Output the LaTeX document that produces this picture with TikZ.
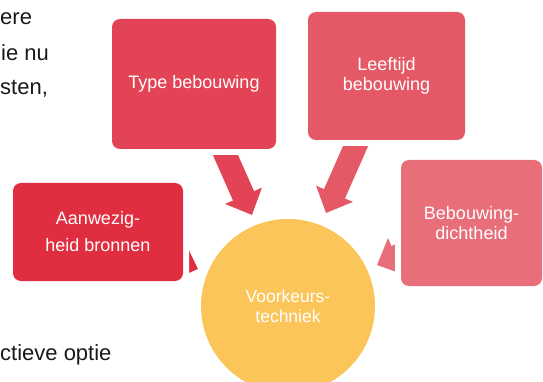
\documentclass[tikz,border=0pt]{standalone}
\usepackage{fontspec}
\setmainfont{Liberation Sans}
\usetikzlibrary{arrows.meta,backgrounds}
\definecolor{roodA}{HTML}{E02D40}
\definecolor{roodB}{HTML}{E24455}
\definecolor{roodC}{HTML}{E55967}
\definecolor{roodD}{HTML}{E86E79}
\definecolor{geel}{HTML}{FBC55A}
\begin{document}
\begin{tikzpicture}[x=1pt, y=-1pt,
  blok/.style={rounded corners=8pt, inner sep=0pt, align=center, text=white,
               font=\fontsize{18pt}{20pt}\selectfont, fill=#1,
               preaction={draw=white, line width=12pt}},
  kern/.style={circle, inner sep=0pt, minimum size=174pt, align=center, text=white,
               fill=geel, font=\fontsize{17.5pt}{19.5pt}\selectfont},
  tekst/.style={anchor=base west, inner sep=0pt, font=\fontsize{22pt}{26pt}\selectfont,
                text=black!90},
  pijl/.style={line width=23pt, -{Triangle[width=39pt, length=21pt]}, draw=#1}
]
  \useasboundingbox (0,0) rectangle (543,382);

  %-- Tekst links
  \node[tekst] (r1) at (0,25)  {ere};
  \node[tekst] (r2) at (1,61)  {ie nu};
  \node[tekst] (r3) at (0,95)  {sten,};
  \node[tekst] (r4) at (0,360) {ctieve optie};

  %-- Factoren
  \node[blok=roodB, minimum width=164pt, minimum height=130pt] (type)  at (194,84)    {Type bebouwing};
  \node[blok=roodC, minimum width=157pt, minimum height=128pt] (leef)  at (386.5,76)  {Leeftijd\\bebouwing};
  \node[blok=roodA, minimum width=170pt, minimum height=98pt,
        font=\fontsize{18pt}{27pt}\selectfont]                 (bron)  at (98,232)    {Aanwezig-\\heid bronnen};
  \node[blok=roodD, minimum width=141pt, minimum height=126pt] (dicht) at (471.5,223) {Bebouwing-\\dichtheid};

  %-- Techniek
  \node[kern] (tech) at (288,306) {Voorkeurs-\\techniek};

  %-- Pijlen
  \coordinate (p1) at (252,215);
  \coordinate (p2) at (326,213);
  \coordinate (p3) at (198,269);
  \coordinate (p4) at (377,265);
  \begin{scope}[on background layer]
    \draw[pijl=roodB] (type.center)  -- (p1);
    \draw[pijl=roodC] (leef.center)  -- (p2);
    \draw[pijl=roodA] (bron.center)  -- (p3);
    \draw[pijl=roodD] (dicht.center) -- (p4);
  \end{scope}
\end{tikzpicture}
\end{document}
